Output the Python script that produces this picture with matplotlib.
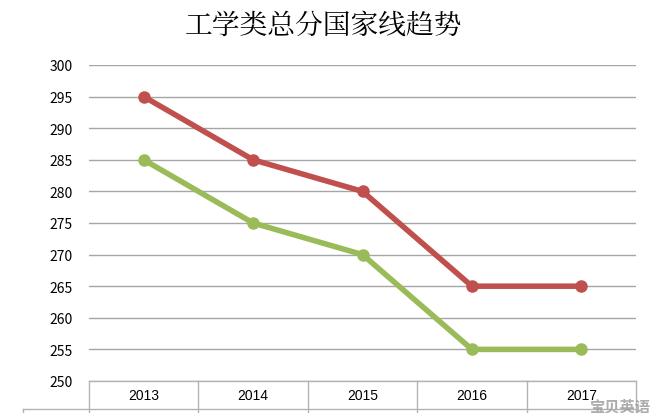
import matplotlib.pyplot as plt

plt.rcParams['font.family'] = ['Noto Sans CJK SC', 'DejaVu Sans']

years = ["2013", "2014", "2015", "2016", "2017"]
red_vals = [295, 285, 280, 265, 265]
green_vals = [285, 275, 270, 255, 255]
yticks = [250, 255, 260, 265, 270, 275, 280, 285, 290, 295, 300]

fig = plt.figure(figsize=(6.52, 4.14), dpi=100)
ax = fig.add_axes([0.1365, 0.0773, 0.839, 0.7633])
x = list(range(len(years)))
ax.plot(x, red_vals, color="#c0504d", lw=4, marker="o", ms=8)
ax.plot(x, green_vals, color="#9bbb59", lw=4, marker="o", ms=8)
ax.set_xlim(-0.5, 4.5)
ax.set_ylim(250, 300)
ax.set_yticks(yticks)
ax.tick_params(axis="y", length=0, labelsize=10, pad=12)
ax.set_xticks([])
ax.grid(axis="y", color="#a6a6a6", lw=1)
for s in ax.spines.values():
    s.set_visible(False)

# category table under the plot
gc = "#b3b3b3"
rh = 0.0886
ax.plot([-0.5, 4.5], [0, 0], transform=ax.get_xaxis_transform(), color=gc, lw=1, clip_on=False)
ax.plot([-1.1, 4.5], [-rh, -rh], transform=ax.get_xaxis_transform(), color=gc, lw=1, clip_on=False)
for i in range(len(years) + 1):
    ax.plot([i - 0.5, i - 0.5], [0, -0.2], transform=ax.get_xaxis_transform(), color=gc, lw=1, clip_on=False)
for i, yr in enumerate(years):
    ax.text(i, -rh / 2, yr, transform=ax.get_xaxis_transform(), ha="center", va="center", fontsize=10,
            family=["Liberation Sans", "DejaVu Sans"])
ax.plot([-1.1, -1.1], [-rh, -0.2], transform=ax.get_xaxis_transform(), color=gc, lw=1, clip_on=False)

fig.text(0.497, 0.935, "工学类总分国家线趋势", ha="center", va="center", fontsize=20,
         family=["Noto Serif CJK SC", "Noto Sans CJK SC"])
fig.text(0.998, 0.018, "宝贝英语", ha="right", va="center", fontsize=11, color="#999999", weight="bold", alpha=0.8)

fig.savefig("out.png", dpi=100)
